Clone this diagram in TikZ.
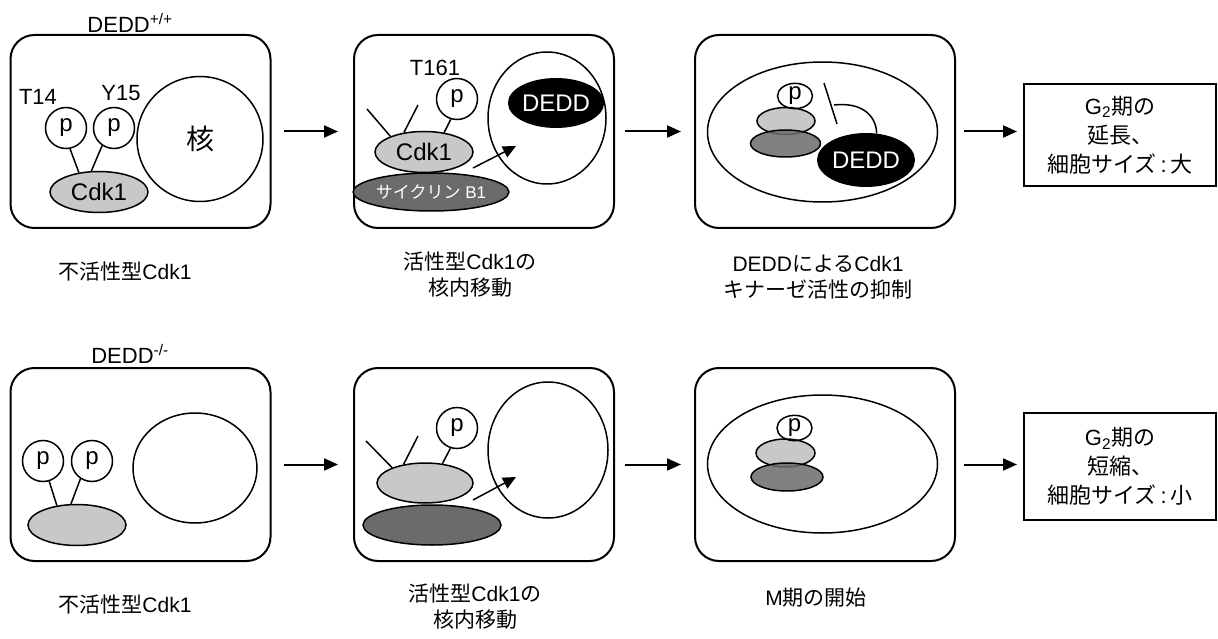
\documentclass[tikz,border=0pt]{standalone}
\usepackage{fontspec}
\setmainfont{Liberation Sans}
\newfontfamily\jp{Noto Sans CJK JP}
\usetikzlibrary{arrows.meta,shapes.geometric}
\definecolor{cdkgray}{HTML}{C8C8C8}
\definecolor{cycgray}{HTML}{6B6B6B}

\begin{document}
\begin{tikzpicture}[x=1pt, y=-1pt,
  cell/.style={draw, line width=2pt, rounded corners=24pt, minimum width=260pt,
    minimum height=193pt},
  nuc/.style={draw, ellipse, line width=1.5pt, inner sep=0pt},
  phos/.style={draw, circle, line width=1.5pt, inner sep=0pt, minimum size=41pt,
    font=\fontsize{24}{28}\selectfont},
  cdk/.style={draw, ellipse, fill=cdkgray, line width=1.5pt, inner sep=0pt,
    minimum width=98pt, minimum height=41pt, font=\fontsize{24}{28}\selectfont},
  cyc/.style={draw, ellipse, fill=cycgray, line width=1.5pt, inner sep=0pt,
    text=white, font=\fontsize{17}{20}\selectfont},
  dedd/.style={ellipse, fill=black, text=white, inner sep=0pt,
    font=\fontsize{24}{28}\selectfont},
  site/.style={font=\fontsize{22}{26}\selectfont},
  caption/.style={align=center, font=\fontsize{21}{26}\selectfont},
  result/.style={draw, line width=2pt, align=center, minimum width=192pt,
    font=\fontsize{22}{29}\selectfont},
  link/.style={line width=1.5pt},
  flow/.style={-{Triangle[length=14pt,width=12pt]}, line width=2pt},
  move/.style={-{Triangle[length=13pt,width=12pt]}, line width=1.5pt}
]
\useasboundingbox (0,0) rectangle (1218,639);

% cells
\node[cell] (c1) at (140.5,131.5) {};
\node[cell] (c2) at (484,131.5) {};
\node[cell] (c3) at (825,131.5) {};
\node[cell] (c4) at (140.5,464.5) {};
\node[cell] (c5) at (484,464.5) {};
\node[cell] (c6) at (825,464.5) {};

% wild type: inactive Cdk1
\node[site] (gtA) at (130,23) {DEDD\textsuperscript{+/+}};
\node[site] (t14) at (38,97) {T14};
\node[site] (y15) at (121,93) {Y15};
\node[phos] (pA1) at (66,128) {p};
\node[phos] (pA2) at (114,128) {p};
\node[nuc, minimum width=126pt, minimum height=125pt, font=\fontsize{28}{32}\selectfont]
  (nA) at (200,139) {\jp 核};
\node[cdk] (cA) at (99,192) {Cdk1};
\draw[link] (pA1.281) -- (cA.136);
\draw[link] (pA2.236) -- (cA.110);

% wild type: active Cdk1 moves in
\node[site] (t161) at (435,68) {T161};
\node[phos] (pB) at (457,99) {p};
\node[nuc, minimum width=118pt, minimum height=132pt] (nB) at (547,118) {};
\node[dedd, minimum width=82pt, minimum height=50pt] (dB) at (556,103) {DEDD};
\node[cdk] (cB) at (424,152) {Cdk1};
\node[cyc, minimum width=138pt, minimum height=38pt] (yB) at (431,192) {{\jp サイクリン} B1};
\coordinate (kB1) at (367,109);
\coordinate (kB2) at (418,105);
\draw[link] (kB1) -- (cB.155);
\draw[link] (kB2) -- (cB.136);
\draw[link] (pB.253) -- (cB.44);
\coordinate (mvB0) at (473,168);
\coordinate (mvB1) at (516,146);
\draw[move] (mvB0) -- (mvB1);

% wild type: DEDD holds Cdk1 in the nucleus
\node[nuc, minimum width=230pt, minimum height=140pt] (eC) at (822.5,132) {};
\node[cdk, fill=cdkgray, minimum width=58pt, minimum height=27pt] (cC) at (786,121) {};
\node[cdk, fill=cycgray, fill opacity=0.85, minimum width=70pt, minimum height=27pt]
  (yC) at (785.5,143.5) {};
\node[nuc, minimum width=35pt, minimum height=25pt, font=\fontsize{24}{28}\selectfont]
  (pC) at (795,96) {p};
\node[dedd, minimum width=98pt, minimum height=54pt] (dC) at (866,160) {DEDD};
\coordinate (bar0) at (824,83);
\coordinate (bar1) at (837,124);
\draw[link] (bar0) -- (bar1);
\coordinate (hold) at (834,105);
\draw[link] (hold) .. controls (860,102) and (876,114) .. (dC.68);

% result, wild type
\node[result, minimum height=102pt] (rA) at (1120,135)
  {G\textsubscript{2}{\jp 期の}\\{\jp 延長、}\\{\jp 細胞サイズ}\,:\,{\jp 大}};

% knockout: inactive Cdk1
\node[site] (gtB) at (130,354) {DEDD\textsuperscript{-/-}};
\node[phos] (pD1) at (43,461) {p};
\node[phos] (pD2) at (92,461) {p};
\node[nuc, minimum width=124pt, minimum height=110pt] (nD) at (195,468) {};
\node[cdk] (cD) at (77,525) {};
\draw[link] (pD1.287) -- (cD.136);
\draw[link] (pD2.237) -- (cD.106);

% knockout: active Cdk1 moves in
\node[phos] (pE) at (457,428) {p};
\node[nuc, minimum width=120pt, minimum height=136pt] (nE) at (548,450) {};
\node[cdk, minimum width=96pt, minimum height=40pt] (cE) at (425,483) {};
\node[cyc, minimum width=138pt, minimum height=40pt] (yE) at (432,525) {};
\coordinate (kE1) at (366,441);
\coordinate (kE2) at (418,436);
\draw[link] (kE1) -- (cE.155);
\draw[link] (kE2) -- (cE.139);
\draw[link] (pE.252) -- (cE.48);
\coordinate (mvE0) at (473,500);
\coordinate (mvE1) at (516,477);
\draw[move] (mvE0) -- (mvE1);

% knockout: free Cdk1 in the nucleus
\node[nuc, minimum width=230pt, minimum height=138pt] (eF) at (822.5,464) {};
\node[cdk, minimum width=59pt, minimum height=28pt] (cF) at (785.5,453) {};
\node[cdk, fill=cycgray, fill opacity=0.85, minimum width=72pt, minimum height=28pt]
  (yF) at (787,477) {};
\node[nuc, minimum width=35pt, minimum height=25pt, font=\fontsize{24}{28}\selectfont]
  (pF) at (794.5,428) {p};

% result, knockout
\node[result, minimum height=107pt] (rB) at (1120,466.5)
  {G\textsubscript{2}{\jp 期の}\\{\jp 短縮、}\\{\jp 細胞サイズ}\,:\,{\jp 小}};

% steps
\draw[flow] ([xshift=12pt]c1.east) -- ([xshift=-15pt]c2.west);
\draw[flow] ([xshift=10pt]c2.east) -- ([xshift=-13pt]c3.west);
\draw[flow] ([xshift=8pt]c3.east) -- ([xshift=-6pt]c3.east -| rA.west);
\draw[flow] ([xshift=12pt]c4.east) -- ([xshift=-15pt]c5.west);
\draw[flow] ([xshift=10pt]c5.east) -- ([xshift=-13pt]c6.west);
\draw[flow] ([xshift=8pt]c6.east) -- ([xshift=-6pt]c6.east -| rB.west);

% captions
\node[caption] (lbA) at (125,272) {{\jp 不活性型}Cdk1};
\node[caption] (lbB) at (470,275) {{\jp 活性型}Cdk1{\jp の}\\{\jp 核内移動}};
\node[caption] (lbC) at (818,277) {DEDD{\jp による}Cdk1\\{\jp キナーゼ活性の抑制}};
\node[caption] (lbD) at (125,605) {{\jp 不活性型}Cdk1};
\node[caption] (lbE) at (475,607) {{\jp 活性型}Cdk1{\jp の}\\{\jp 核内移動}};
\node[caption] (lbF) at (816,598) {M{\jp 期の開始}};
\end{tikzpicture}
\end{document}
